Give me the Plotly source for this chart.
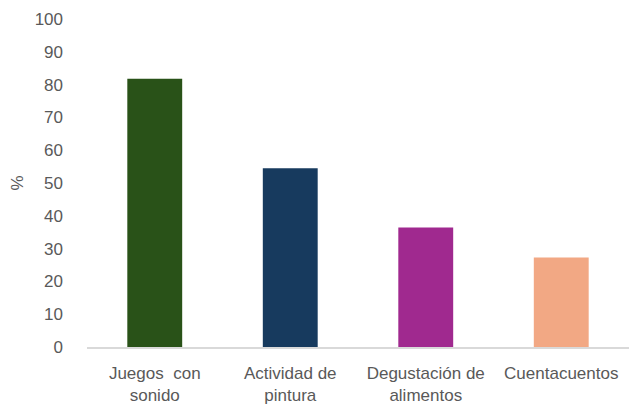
import plotly.graph_objects as go

# categorías y porcentajes
categorias = ["Juegos  con<br>sonido", "Actividad de<br>pintura", "Degustación de<br>alimentos", "Cuentacuentos"]
porcentajes = [81.8, 54.5, 36.4, 27.3]
colores = ["#295218", "#173A5E", "#A0298F", "#F2A884"]
y_ticks = list(range(0, 101, 10))

fig = go.Figure(go.Bar(
    x=categorias,
    y=porcentajes,
    marker_color=colores,
    marker_line_width=0,
))

fig.update_layout(
    width=644,
    height=405,
    margin=dict(l=79, r=23, t=11, b=66),
    paper_bgcolor="white",
    plot_bgcolor="white",
    bargap=0.595,
    showlegend=False,
    font=dict(family="Liberation Sans, Arial, sans-serif", size=17, color="#595959"),
    xaxis=dict(
        automargin=False,
        showline=True,
        linecolor="#D9D9D9",
        linewidth=1.5,
        showgrid=False,
        ticks="",
        ticklabelstandoff=10,
    ),
    yaxis=dict(
        automargin=False,
        range=[0, 100],
        tickvals=y_ticks,
        showgrid=False,
        zeroline=False,
        showline=False,
        ticks="",
        ticklabelstandoff=23,
        title=dict(text="%", standoff=9, font=dict(size=17)),
    ),
)

fig.write_html("out.html")
